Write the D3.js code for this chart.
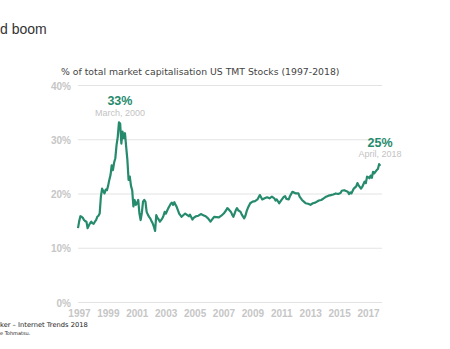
<!DOCTYPE html>
<html><head><meta charset="utf-8">
<script src="https://cdn.jsdelivr.net/npm/d3@7"></script>
<style>
html,body{margin:0;padding:0;background:#fff;overflow:hidden;}
svg{display:block;}
</style></head>
<body>
<script>
// ---- data ----
const months = [
"1997-05","1997-06","1997-07","1997-08","1997-09","1997-10","1997-11","1997-12",
"1998-01","1998-02","1998-03","1998-04","1998-05","1998-06","1998-07","1998-08","1998-09","1998-10","1998-11","1998-12",
"1999-01","1999-02","1999-03","1999-04","1999-05","1999-06","1999-07","1999-08","1999-09","1999-10","1999-11","1999-12",
"2000-01","2000-02","2000-03","2000-04","2000-05","2000-06","2000-07","2000-08","2000-09","2000-10","2000-11","2000-12",
"2001-01","2001-02","2001-03","2001-04","2001-05","2001-06","2001-07","2001-08","2001-09","2001-10","2001-11","2001-12",
"2002-01","2002-02","2002-03","2002-04","2002-05","2002-06","2002-07","2002-08","2002-09","2002-10","2002-11","2002-12",
"2003-01","2003-02","2003-03","2003-04","2003-05","2003-06","2003-07","2003-08","2003-09","2003-10","2003-11","2003-12",
"2004-01","2004-02","2004-03","2004-04","2004-05","2004-07","2004-10",
"2005-01","2005-02","2005-04","2005-05","2005-07","2005-09","2005-11",
"2006-01","2006-03","2006-05","2006-07","2006-10",
"2007-02","2007-04","2007-06","2007-08","2007-09","2007-10","2007-12",
"2008-01","2008-02","2008-04","2008-05","2008-06","2008-08","2008-09","2008-11","2008-12",
"2009-01","2009-02","2009-04","2009-06","2009-08","2009-10","2009-12",
"2010-01","2010-02","2010-04","2010-06","2010-08","2010-10","2010-12",
"2011-01","2011-02","2011-04","2011-06","2011-08","2011-09","2011-10","2011-12",
"2012-01","2012-03","2012-04","2012-06","2012-08","2012-09","2012-11",
"2013-01","2013-02","2013-04","2013-06","2013-08","2013-10",
"2014-01","2014-03","2014-05","2014-07","2014-09","2014-11",
"2015-01","2015-03","2015-05","2015-07","2015-08","2015-10",
"2016-01","2016-02","2016-03","2016-04","2016-06","2016-08","2016-09","2016-10","2016-12",
"2017-01","2017-03","2017-04","2017-05","2017-06","2017-07","2017-08","2017-09","2017-10","2017-11",
"2018-01","2018-02","2018-03","2018-04"];
const values = [
13.7,15.0,15.9,15.8,15.6,15.2,15.0,14.9,
13.7,14.2,14.6,14.9,14.6,14.5,14.9,15.2,15.8,16.0,16.4,19.5,
21.0,20.5,20.1,20.8,20.7,21.5,22.6,23.5,25.3,24.4,25.8,26.6,
29.0,30.5,33.2,33.0,29.3,31.5,30.3,31.2,28.7,26.3,22.6,23.2,
21.5,20.7,17.7,18.9,18.0,18.3,18.9,16.4,15.2,16.5,18.6,18.9,
18.6,16.7,16.2,15.8,15.5,15.0,14.6,14.0,13.2,16.1,15.6,15.3,
14.9,15.2,15.5,16.0,16.7,16.4,16.9,17.4,17.8,18.2,18.4,18.0,
18.5,18.0,17.6,17.0,16.4,15.8,16.4,
15.9,16.2,15.3,15.6,15.9,16.0,16.3,
16.1,15.9,15.5,14.9,15.8,
15.7,16.0,16.4,17.0,17.4,17.2,16.7,
16.2,15.8,17.0,17.4,17.0,16.7,16.2,15.5,16.0,
16.8,17.4,18.3,18.6,18.7,19.0,19.8,
19.4,19.0,19.2,19.4,19.2,19.5,19.2,
18.8,19.0,18.3,18.9,19.5,19.6,19.1,19.0,
19.6,20.4,20.3,20.1,20.1,19.5,18.9,
18.5,18.3,18.2,18.0,18.3,18.4,
18.8,18.9,19.2,19.5,19.7,19.8,
19.9,20.1,20.0,20.2,20.6,20.7,
20.4,20.0,20.3,20.1,21.0,21.4,22.0,21.6,21.0,
21.3,22.3,22.0,23.2,23.1,22.9,23.4,23.0,24.1,23.8,
24.4,24.6,25.5,25.2];
const yTicks = [0,10,20,30,40];
const xTickYears = [1997,1999,2001,2003,2005,2007,2009,2011,2013,2015,2017];
const annotations = [
  {month:"2000-03", big:"33%", small:"March, 2000"},
  {month:"2018-03", big:"25%", small:"April, 2018"}
];
const titleText = "% of total market capitalisation US TMT Stocks (1997-2018)";
const headText = "d boom";
const sourceText = "ker \u2013 Internet Trends 2018";
const noteText = "e Tohmatsu.";

// ---- drawing ----
const W = 450, H = 349;
const green = "#268a6c";
const toYear = m => { const [y, mo] = m.split("-").map(Number); return y + (mo - 1) / 12; };
const data = months.map((m, i) => ({t: toYear(m), v: values[i]}));

const svg = d3.select("body").append("svg").attr("width", W).attr("height", H);

const x = d3.scaleLinear().domain([toYear("1997-05"), toYear("2018-05")]).range([78, 381.5]);
const y = d3.scaleLinear().domain([0, 40]).range([302.5, 85.5]);

// gridlines
svg.append("g").selectAll("line").data(yTicks).join("line")
  .attr("x1", 78).attr("x2", 382)
  .attr("y1", d => y(d)).attr("y2", d => y(d))
  .attr("stroke", "#e3e3e3").attr("stroke-width", 1);

// y axis labels
const yAxis = d3.axisLeft(y).tickValues(yTicks).tickFormat(d => d + "%").tickSize(0).tickPadding(0);
const gy = svg.append("g").attr("transform", "translate(71,0)").call(yAxis);
gy.select(".domain").remove();
gy.selectAll("text").attr("fill", "#c6c6c6").attr("font-family", "Liberation Sans, Arial, sans-serif")
  .attr("font-size", 10).attr("font-weight", "bold").attr("dy", "0.35em");

// x axis labels
const xAxis = d3.axisBottom(x).tickValues(xTickYears.map(d => d + 0.4)).tickFormat(d => Math.floor(d)).tickSize(0).tickPadding(0);
const gx = svg.append("g").attr("transform", "translate(0,310)").call(xAxis);
gx.select(".domain").remove();
gx.selectAll("text").attr("fill", "#c6c6c6").attr("font-family", "Liberation Sans, Arial, sans-serif")
  .attr("font-size", 10).attr("font-weight", "bold").attr("dy", "0.71em");

// line
svg.append("path").datum(data)
  .attr("fill", "none").attr("stroke", green).attr("stroke-width", 2.2).attr("stroke-linejoin", "round")
  .attr("d", d3.line().x(d => x(d.t)).y(d => y(d.v)));

// annotations
annotations.forEach(a => {
  const i = months.indexOf(a.month);
  const cx = x(data[i].t) + 1;
  const top = y(data[i].v);
  svg.append("text").attr("x", cx).attr("y", top - 17.5).attr("text-anchor", "middle")
    .attr("font-family", "Liberation Sans, Arial, sans-serif").attr("font-size", 12.5).attr("font-weight", "bold")
    .attr("fill", green).text(a.big);
  svg.append("text").attr("x", cx).attr("y", top - 6.8).attr("text-anchor", "middle")
    .attr("font-family", "Liberation Sans, Arial, sans-serif").attr("font-size", 9)
    .attr("fill", "#c3c3c3").text(a.small);
});

// title
svg.append("text").attr("x", 61).attr("y", 75)
  .attr("font-family", "DejaVu Sans, Verdana, sans-serif").attr("font-size", 9.3)
  .attr("fill", "#444").text(titleText);

// heading (cut off)
svg.append("text").attr("x", 0).attr("y", 34)
  .attr("font-family", "Liberation Sans, Arial, sans-serif").attr("font-size", 14)
  .attr("fill", "#333").text(headText);

// footer
svg.append("text").attr("x", 0).attr("y", 327)
  .attr("font-family", "DejaVu Sans, Verdana, sans-serif").attr("font-size", 6.7)
  .attr("fill", "#222").text(sourceText);
svg.append("text").attr("x", 0).attr("y", 335)
  .attr("font-family", "DejaVu Sans, Verdana, sans-serif").attr("font-size", 5)
  .attr("fill", "#222").text(noteText);
</script>
</body></html>
